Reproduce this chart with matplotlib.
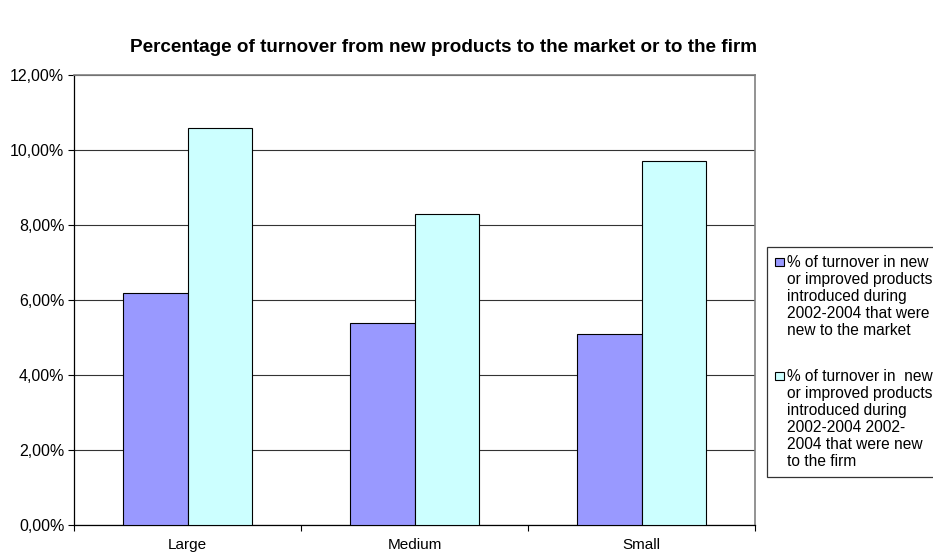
import matplotlib.pyplot as plt
from matplotlib.patches import Rectangle
from matplotlib.ticker import FuncFormatter, FixedLocator

plt.rcParams['font.family'] = ['Liberation Sans', 'DejaVu Sans']

categories = ["Large", "Medium", "Small"]
new_to_market = [6.2, 5.4, 5.1]
new_to_firm = [10.6, 8.3, 9.7]
series_labels = [
    "% of turnover in new\nor improved products\nintroduced during\n2002-2004 that were\nnew to the market",
    "% of turnover in  new\nor improved products\nintroduced during\n2002-2004 2002-\n2004 that were new\nto the firm",
]
series_colors = ["#9999FF", "#CCFFFF"]
yticks = [0, 2, 4, 6, 8, 10, 12]

W, H = 933, 556
fig = plt.figure(figsize=(W / 100, H / 100), dpi=100)
ax = fig.add_axes([74 / W, 1 - 525 / H, (755 - 74) / W, (525 - 75) / H])

x = list(range(len(categories)))
bw = 0.284
ax.bar([i - bw / 2 for i in x], new_to_market, bw, color=series_colors[0],
       edgecolor="black", linewidth=0.8, zorder=3)
ax.bar([i + bw / 2 for i in x], new_to_firm, bw, color=series_colors[1],
       edgecolor="black", linewidth=0.8, zorder=3)

ax.set_xlim(-0.5, len(categories) - 0.5)
ax.set_ylim(0, 12)
ax.set_yticks(yticks)
ax.yaxis.set_major_formatter(FuncFormatter(lambda v, p: "{:.2f}%".format(v).replace(".", ",")))
ax.yaxis.grid(True, color="#333333", linewidth=0.8, zorder=0)
ax.tick_params(axis="y", length=4, width=0.8, labelsize=11.5, pad=3)

ax.set_xticks(x)
ax.set_xticklabels(categories)
ax.xaxis.set_minor_locator(FixedLocator([-0.5, 0.5, 1.5, 2.5]))
ax.tick_params(axis="x", which="major", length=0, labelsize=11, pad=9.5)
ax.tick_params(axis="x", which="minor", length=4, width=0.8)

for s in ["left", "bottom"]:
    ax.spines[s].set_color("black")
    ax.spines[s].set_linewidth(0.9)
for s in ["top", "right"]:
    ax.spines[s].set_color("#808080")
    ax.spines[s].set_linewidth(1.2)

fig.text(443 / W, 1 - 47 / H,
         "Percentage of turnover from new products to the market or to the firm",
         ha="center", va="center", fontsize=13.6, fontweight="bold")

# legend box on the right, partly running off the figure edge
def fx(px):
    return px / W

def fy(py):
    return 1 - py / H

fig.patches.append(Rectangle((fx(767), fy(477)), fx(940) - fx(767), fy(247) - fy(477),
                             transform=fig.transFigure, facecolor="white",
                             edgecolor="#333333", linewidth=0.9))
for top, label, color in zip([258, 372], series_labels, series_colors):
    fig.patches.append(Rectangle((fx(775), fy(top + 8)), fx(784) - fx(775), fy(top) - fy(top + 8),
                                 transform=fig.transFigure, facecolor=color,
                                 edgecolor="black", linewidth=0.8))
    fig.text(fx(787), fy(top - 3), label, ha="left", va="top", fontsize=11.2,
             linespacing=1.17)

fig.savefig("out.png", dpi=100)
